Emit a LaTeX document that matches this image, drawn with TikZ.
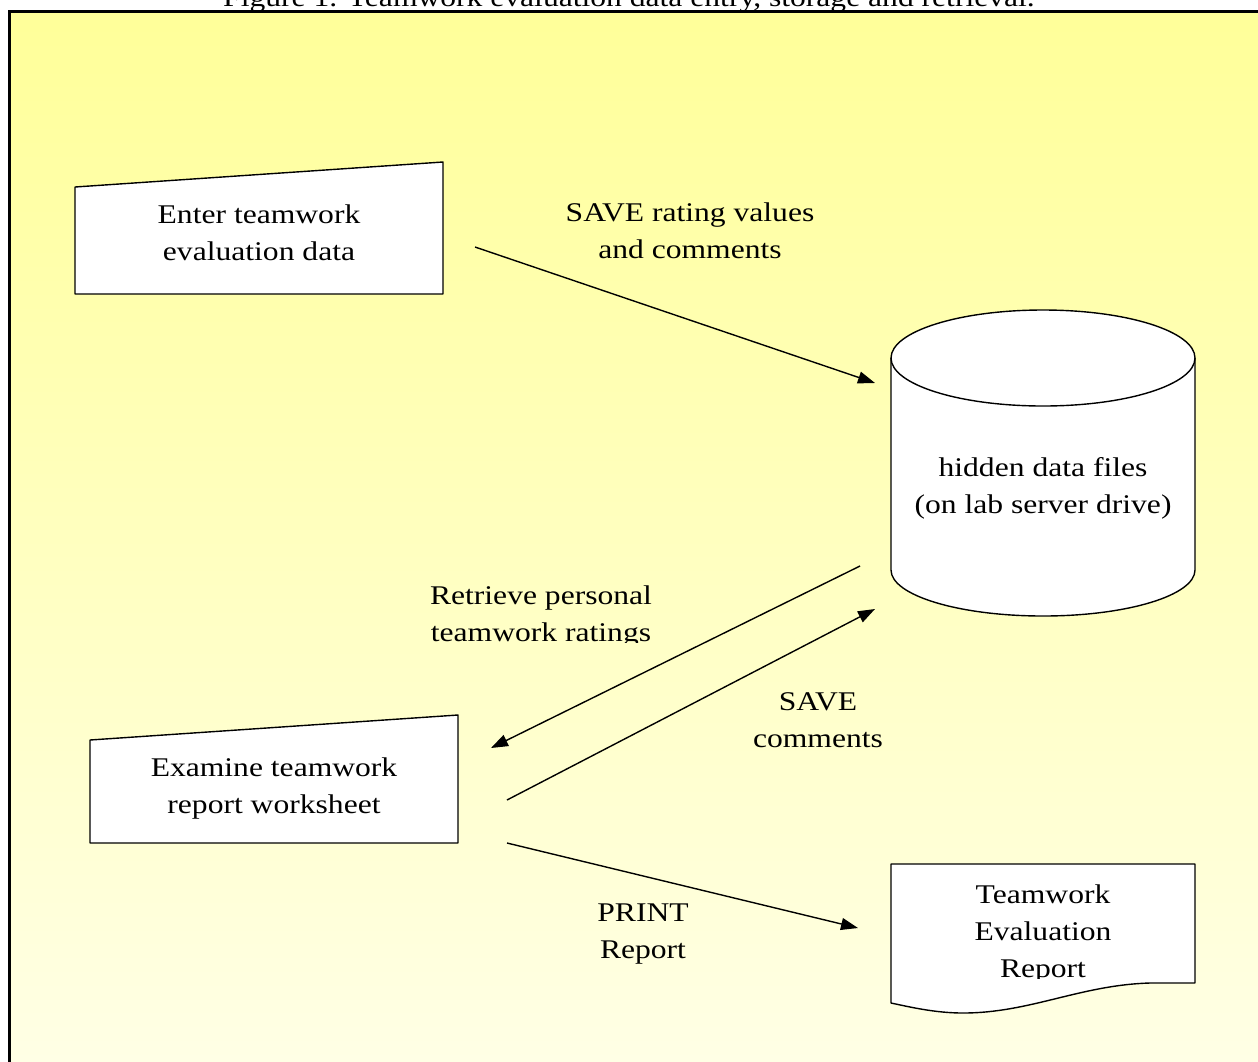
\documentclass[tikz,border=0pt]{standalone}
\usepackage{fontspec}
\setmainfont{Liberation Serif}[FakeStretch=1.17]
\usetikzlibrary{arrows.meta}
\definecolor{bgtop}{RGB}{255,255,153}
\definecolor{bgbot}{RGB}{255,255,230}
\begin{document}
\begin{tikzpicture}[x=1pt,y=-1pt,
  lbl/.style={font=\fontsize{27}{37}\selectfont, align=center, inner sep=0pt},
  box/.style={draw=black, line width=1.4pt, fill=white, line join=round},
  flow/.style={line width=1.4pt, -{Triangle[length=17pt,width=12pt]}}]
\useasboundingbox (0,0) rectangle (1258,1061);
\fill[white] (0,0) rectangle (1258,1061);
\shade[top color=bgtop, bottom color=bgbot] (9,11) rectangle (1270,1075);
\draw[line width=3pt] (9,1075) -- (9,11) -- (1270,11);
\node[lbl, anchor=base] (title) at (629,6) {Figure 1. Teamwork evaluation data entry, storage and retrieval.};

% manual input: enter
\draw[box] (75,187) -- (443,162) -- (443,294) -- (75,294) -- cycle;
\node[lbl] (enter) at (259,233) {Enter teamwork\\evaluation data};

% cylinder
\draw[box] (891,358) -- (891,570) arc[start angle=180, end angle=0, x radius=152, y radius=46] -- (1195,358) arc[start angle=0, end angle=-180, x radius=152, y radius=48] -- cycle;
\draw[box, fill=none] (891,358) arc[start angle=180, end angle=0, x radius=152, y radius=48];
\node[lbl] (files) at (1043,488) {hidden data files\\(on lab server drive)};

% manual input: examine
\draw[box] (90,740) -- (458,715) -- (458,843) -- (90,843) -- cycle;
\node[lbl] (examine) at (274,788) {Examine teamwork\\report worksheet};

% document
\draw[box] (891,864) -- (1195,864) -- (1195,983) -- (1150,983) .. controls (1080,985) and (1030,1013) .. (963,1013) .. controls (935,1013) and (910,1007) .. (891,1003) -- cycle;
\begin{scope}
\clip (891,866) rectangle (1195,978);
\node[lbl] (report) at (1043,934) {Teamwork\\Evaluation\\Report};
\end{scope}

% connectors
\coordinate (a1s) at (475,247); \coordinate (a1e) at (875,383);
\coordinate (a2s) at (860,566); \coordinate (a2e) at (491,748);
\coordinate (a3s) at (507,800); \coordinate (a3e) at (875,609);
\coordinate (a4s) at (507,843); \coordinate (a4e) at (858,928);
\draw[flow] (a1s) -- (a1e);
\draw[flow] (a2s) -- (a2e);
\draw[flow] (a3s) -- (a3e);
\draw[flow] (a4s) -- (a4e);

% labels
\node[lbl] (l1) at (690,231) {SAVE rating values\\and comments};
\begin{scope}
\clip (400,570) rectangle (700,642);
\node[lbl] (l2) at (541,617) {Retrieve personal\\teamwork ratings};
\end{scope}
\node[lbl] (l3) at (818,720) {SAVE\\comments};
\node[lbl] (l4) at (643,934) {PRINT\\Report};
\end{tikzpicture}
\end{document}
